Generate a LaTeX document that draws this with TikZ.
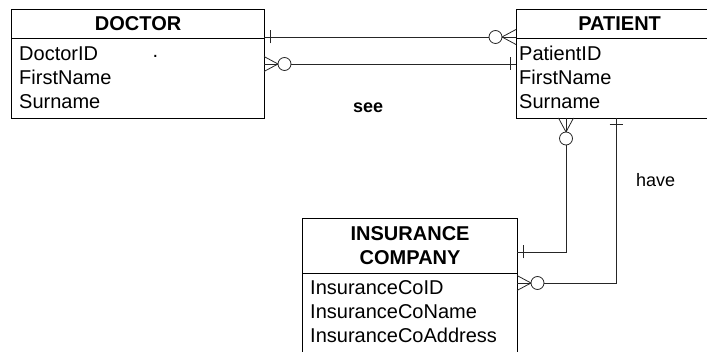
\documentclass[tikz,border=0pt]{standalone}
\usepackage{fontspec}
\setmainfont{Liberation Sans}
\usetikzlibrary{calc}

\tikzset{
  entity/.style={draw, line width=1.2pt, anchor=north west, inner sep=0pt,
    font=\bfseries\fontsize{20}{24}\selectfont},
  attr/.style={anchor=base west, inner sep=0pt, font=\fontsize{20}{24}\selectfont},
  rel/.style={line width=0.8pt, color=black!85},
  relname/.style={anchor=base west, inner sep=0pt, font=\fontsize{18}{22}\selectfont},
  onemark/.pic={\draw[rel] (-6,-6.5) -- (-6,6.5);},
  manymark/.pic={
    \draw[rel] (-14,0) -- (0,-7.5) (-14,0) -- (0,7.5);
    \draw[rel, fill=white] (-20.5,0) circle (6.5);},
}

\begin{document}
\begin{tikzpicture}[x=1pt, y=-1pt]
			\useasboundingbox (0,0) rectangle (707,352);
			\clip (0,0) rectangle (707,352);
			
			%%%%% ENTITIES %%%%%
			\node[entity, minimum width=253pt, minimum height=29pt] (doctor) at (11,9) {DOCTOR};
			\node[entity, minimum width=253pt, minimum height=80pt] (doctorbody) at (11,38) {};
			
			\node[entity, minimum width=206pt, minimum height=29pt] (patient) at (516,9) {PATIENT};
			\node[entity, minimum width=206pt, minimum height=80pt] (patientbody) at (516,38) {};
			
			\node[entity, minimum width=215pt, minimum height=55pt, align=center] (insurer) at (302,218) {INSURANCE\\COMPANY};
			\node[entity, minimum width=215pt, minimum height=100pt] (insurerbody) at (302,273) {};
			
			%%%%% ATTRIBUTES %%%%%
			\foreach \t [count=\i from 0] in {DoctorID,FirstName,Surname}
				\node[attr] (docattr\i) at (19,60.5+24*\i) {\t};
			\node[attr] (dot) at (152.5,58) {.};
			
			\foreach \t [count=\i from 0] in {PatientID,FirstName,Surname}
				\node[attr] (patattr\i) at (519,60.5+24*\i) {\t};
			
			\foreach \t [count=\i from 0] in {InsuranceCoID,InsuranceCoName,InsuranceCoAddress}
				\node[attr] (insattr\i) at (310,295+24*\i) {\t};
			
			%%%%% RELATIONSHIPS %%%%%
			\coordinate (d1) at (264,37);
			\coordinate (p1) at (516,37);
			\coordinate (d2) at (264,64);
			\coordinate (p2) at (516,64);
			\coordinate (p3) at (566,118);
			\coordinate (i3) at (517,252);
			\coordinate (p4) at (616,118);
			\coordinate (i4) at (517,283);
			
			\draw[rel] (d1) -- (p1);
			\pic[rotate=180] at (d1) {onemark};
			\pic at (p1) {manymark};
			
			\draw[rel] (d2) -- (p2);
			\pic[rotate=180] at (d2) {manymark};
			\pic at (p2) {onemark};
			
			\draw[rel] (p3) |- (i3);
			\pic[rotate=90] at (p3) {manymark};
			\pic[rotate=180] at (i3) {onemark};
			
			\draw[rel] (p4) |- (i4);
			\pic[rotate=90] at (p4) {onemark};
			\pic[rotate=180] at (i4) {manymark};
			
			\node[relname, font=\bfseries\fontsize{18}{22}\selectfont] (see) at (353,113) {see};
			\node[relname] (have) at (636,187) {have};
		\end{tikzpicture}
\end{document}
